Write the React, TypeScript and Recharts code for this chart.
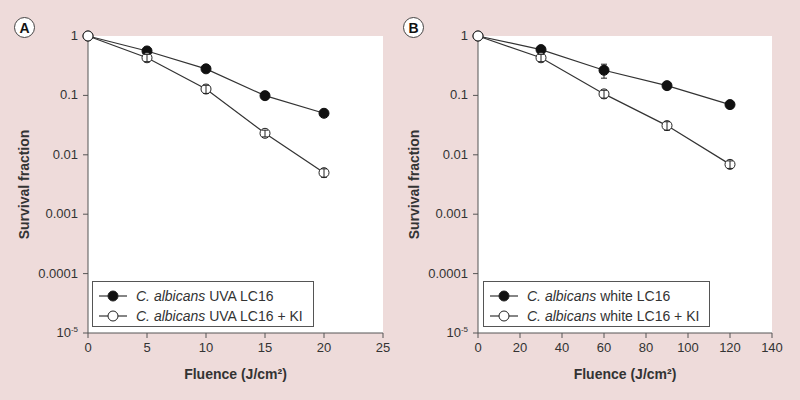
import { LineChart, Line, XAxis, YAxis, CartesianGrid, ErrorBar } from 'recharts'

// panel A: UVA
const fluenceA = [0, 5, 10, 15, 20]
const uvaLC16 = [1, 0.56, 0.28, 0.099, 0.05]
const uvaLC16Err = [0, 0.06, 0.03, 0.01, 0.005]
const uvaLC16KI = [1, 0.43, 0.128, 0.023, 0.005]
const uvaLC16KIErr = [0, 0.06, 0.02, 0.003, 0.0008]
const ticksA = [0, 5, 10, 15, 20, 25]

// panel B: white light
const fluenceB = [0, 30, 60, 90, 120]
const whiteLC16 = [1, 0.59, 0.265, 0.146, 0.07]
const whiteLC16Err = [0, 0.07, 0.07, 0.015, 0.008]
const whiteLC16KI = [1, 0.43, 0.106, 0.031, 0.0069]
const whiteLC16KIErr = [0, 0.06, 0.016, 0.005, 0.001]
const ticksB = [0, 20, 40, 60, 80, 100, 120, 140]

const yTicks = [1, 0.1, 0.01, 0.001, 0.0001, 0.00001]

const BG = '#eedbda'
const AXIS = '#555'
const TEXT = '#333'
const FONT = '"Liberation Sans", Arial, Helvetica, sans-serif'

const YTick = ({ x, y, payload }: any) => {
  const v = payload.value
  if (v < 0.00005) {
    return (
      <text x={x - 3} y={y} dy={4} textAnchor="end" fill={TEXT} fontSize={13} fontFamily={FONT}>
        <tspan>10</tspan>
        <tspan dy={-5} fontSize={8}>-5</tspan>
      </text>
    )
  }
  return (
    <text x={x - 3} y={y} dy={4} textAnchor="end" fill={TEXT} fontSize={13} fontFamily={FONT}>
      {String(v)}
    </text>
  )
}

// legend box drawn over the plot, bottom left corner
const LegendBox = ({ left, label }: { left: number; label: string }) => (
  <div
    style={{
      position: 'absolute',
      left,
      top: 281,
      border: '1px solid #555',
      background: '#fff',
      padding: '4px 10px 0px 4px',
      fontFamily: FONT,
      fontSize: 14,
      color: TEXT,
      lineHeight: '20px',
    }}
  >
    {[true, false].map((filled) => (
      <div key={String(filled)} style={{ display: 'flex', alignItems: 'center' }}>
        <svg width={32} height={20} style={{ marginRight: 7 }}>
          <line x1={2} y1={10} x2={30} y2={10} stroke="#333" strokeWidth={1.2} />
          <circle cx={16} cy={10} r={5} fill={filled ? '#111' : '#fff'} stroke="#222" strokeWidth={1} />
        </svg>
        <span>
          <i>C. albicans</i> {label}
          {filled ? '' : ' + KI'}
        </span>
      </div>
    ))}
  </div>
)

interface PanelProps {
  data: any[]
  xTicks: number[]
  xMax: number
  marginLeft: number
  marginRight: number
}

const Panel = ({ data, xTicks, xMax, marginLeft, marginRight }: PanelProps) => (
  <LineChart
    width={400}
    height={400}
    data={data}
    margin={{ top: 36, right: marginRight, bottom: 37, left: marginLeft }}
  >
    <CartesianGrid horizontal={false} vertical={false} fill="#fff" />
    <XAxis
      dataKey="fluence"
      type="number"
      domain={[0, xMax]}
      ticks={xTicks}
      height={30}
      stroke={AXIS}
      tickSize={5}
      tickMargin={5}
      tick={{ fontSize: 13, fill: TEXT, fontFamily: FONT }}
      label={{
        value: 'Fluence (J/cm²)',
        position: 'insideBottom',
        offset: -16,
        style: { fontSize: 14, fontWeight: 700, fill: TEXT, fontFamily: FONT },
      }}
    />
    <YAxis
      type="number"
      scale="log"
      domain={[0.00001, 1]}
      ticks={yTicks}
      width={60}
      stroke={AXIS}
      tickSize={5}
      tick={<YTick />}
      label={{
        value: 'Survival fraction',
        angle: -90,
        position: 'insideLeft',
        offset: -4,
        style: { fontSize: 14, fontWeight: 700, fill: TEXT, fontFamily: FONT, textAnchor: 'middle' },
      }}
    />
    <Line
      dataKey="plain"
      type="linear"
      stroke="#333"
      strokeWidth={1.2}
      dot={{ r: 5, fill: '#111', stroke: '#111', strokeWidth: 1 }}
      isAnimationActive={false}
    >
      <ErrorBar dataKey="plainErr" width={3} stroke="#222" strokeWidth={1} direction="y" />
    </Line>
    <Line
      dataKey="ki"
      type="linear"
      stroke="#333"
      strokeWidth={1.2}
      dot={{ r: 5, fill: '#fff', stroke: '#222', strokeWidth: 1 }}
      isAnimationActive={false}
    >
      {/* raised so the bar shows inside the open circle */}
      <ErrorBar dataKey="kiErr" width={3} stroke="#222" strokeWidth={1} direction="y" zIndex={1500} />
    </Line>
  </LineChart>
)

const PanelTag = ({ left, text }: { left: number; text: string }) => (
  <div
    style={{
      position: 'absolute',
      left,
      top: 17,
      width: 21,
      height: 21,
      borderRadius: '50%',
      border: '1.5px solid #444',
      background: '#fff',
      fontFamily: FONT,
      fontWeight: 700,
      fontSize: 14,
      color: '#111',
      display: 'flex',
      alignItems: 'center',
      justifyContent: 'center',
      boxSizing: 'border-box',
    }}
  >
    {text}
  </div>
)

export default function App() {
  const rowsA = fluenceA.map((f, i) => ({
    fluence: f,
    plain: uvaLC16[i],
    plainErr: uvaLC16Err[i],
    ki: uvaLC16KI[i],
    kiErr: uvaLC16KIErr[i],
  }))
  const rowsB = fluenceB.map((f, i) => ({
    fluence: f,
    plain: whiteLC16[i],
    plainErr: whiteLC16Err[i],
    ki: whiteLC16KI[i],
    kiErr: whiteLC16KIErr[i],
  }))

  return (
    <div
      style={{
        position: 'absolute',
        left: 0,
        top: 0,
        width: 800,
        height: 400,
        background: BG,
        overflow: 'hidden',
      }}
    >
      <div style={{ position: 'absolute', left: 0, top: 0 }}>
        <Panel data={rowsA} xTicks={ticksA} xMax={25} marginLeft={28} marginRight={17} />
      </div>
      <div style={{ position: 'absolute', left: 400, top: 0 }}>
        <Panel data={rowsB} xTicks={ticksB} xMax={140} marginLeft={18} marginRight={28} />
      </div>
      <LegendBox left={92} label="UVA LC16" />
      <LegendBox left={483} label="white LC16" />
      <PanelTag left={14} text="A" />
      <PanelTag left={403} text="B" />
    </div>
  )
}
